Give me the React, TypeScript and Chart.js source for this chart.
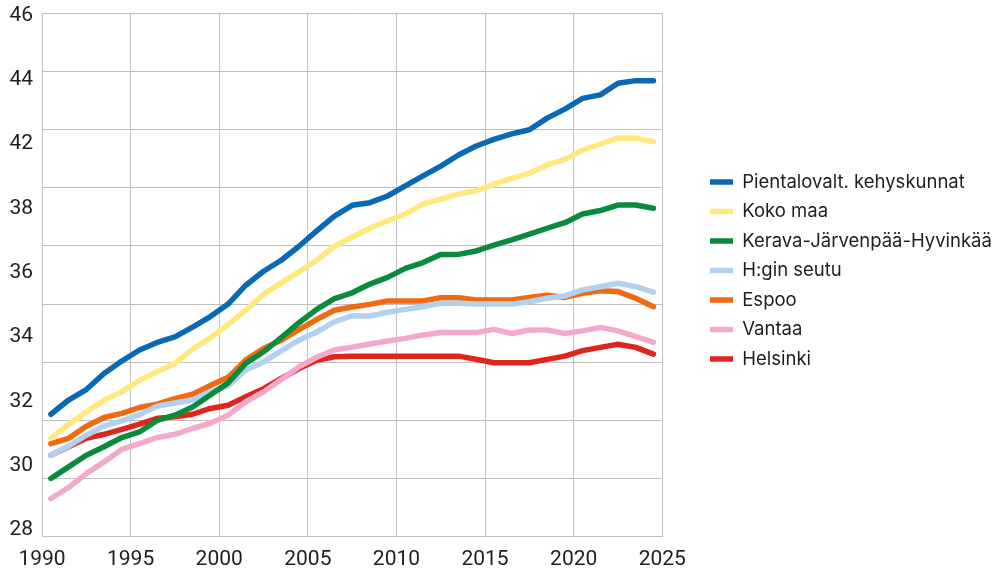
import React, { useEffect, useRef } from 'react';
import { Chart, registerables } from 'chart.js';

Chart.register(...registerables);

// Years (values are plotted at mid-year)
const years = [
  1990, 1991, 1992, 1993, 1994, 1995, 1996, 1997, 1998, 1999,
  2000, 2001, 2002, 2003, 2004, 2005, 2006, 2007, 2008, 2009,
  2010, 2011, 2012, 2013, 2014, 2015, 2016, 2017, 2018, 2019,
  2020, 2021, 2022, 2023, 2024,
];

const seriesNames = [
  'Pientalovalt. kehyskunnat',
  'Koko maa',
  'Kerava-Järvenpää-Hyvinkää',
  'H:gin seutu',
  'Espoo',
  'Vantaa',
  'Helsinki',
];

const pientalovalt = [32.21, 32.7, 33.06, 33.61, 34.04, 34.42, 34.68, 34.87, 35.21, 35.57, 36.0, 36.65, 37.13, 37.51, 37.99, 38.52, 39.03, 39.4, 39.49, 39.72, 40.07, 40.41, 40.75, 41.13, 41.44, 41.67, 41.86, 42.0, 42.4, 42.71, 43.08, 43.2, 43.6, 43.69, 43.69];
const kokoMaa = [31.38, 31.87, 32.29, 32.7, 32.98, 33.38, 33.67, 33.96, 34.45, 34.84, 35.3, 35.79, 36.34, 36.73, 37.11, 37.51, 37.99, 38.3, 38.61, 38.87, 39.1, 39.45, 39.61, 39.79, 39.9, 40.12, 40.33, 40.5, 40.79, 40.98, 41.3, 41.51, 41.71, 41.71, 41.59];
const keravaJarvenpaaHyvinkaa = [30.0, 30.4, 30.8, 31.09, 31.41, 31.6, 32.0, 32.18, 32.46, 32.87, 33.29, 33.96, 34.36, 34.85, 35.36, 35.82, 36.19, 36.39, 36.69, 36.92, 37.23, 37.43, 37.71, 37.71, 37.83, 38.03, 38.21, 38.41, 38.61, 38.8, 39.1, 39.22, 39.41, 39.41, 39.3];
const hginSeutu = [30.8, 31.11, 31.49, 31.8, 31.98, 32.2, 32.49, 32.6, 32.7, 32.99, 33.18, 33.73, 34.01, 34.39, 34.76, 35.04, 35.39, 35.6, 35.59, 35.72, 35.82, 35.91, 36.03, 36.03, 36.0, 36.0, 36.0, 36.08, 36.2, 36.28, 36.49, 36.6, 36.72, 36.6, 36.41];
const espoo = [31.2, 31.38, 31.8, 32.1, 32.24, 32.44, 32.56, 32.75, 32.9, 33.2, 33.48, 34.08, 34.47, 34.76, 35.12, 35.47, 35.79, 35.9, 35.99, 36.11, 36.11, 36.11, 36.22, 36.22, 36.14, 36.14, 36.14, 36.23, 36.31, 36.23, 36.37, 36.46, 36.43, 36.2, 35.91];
const vantaa = [29.31, 29.69, 30.17, 30.57, 31.0, 31.2, 31.41, 31.52, 31.72, 31.9, 32.18, 32.64, 32.98, 33.41, 33.84, 34.17, 34.42, 34.52, 34.63, 34.73, 34.82, 34.94, 35.02, 35.02, 35.02, 35.13, 34.99, 35.11, 35.11, 34.99, 35.08, 35.2, 35.08, 34.88, 34.68];
const helsinki = [30.8, 31.09, 31.38, 31.52, 31.69, 31.87, 32.07, 32.12, 32.21, 32.41, 32.52, 32.81, 33.09, 33.44, 33.78, 34.07, 34.19, 34.21, 34.21, 34.21, 34.21, 34.21, 34.21, 34.21, 34.1, 33.98, 33.98, 33.98, 34.1, 34.21, 34.4, 34.51, 34.62, 34.51, 34.28];

const seriesValues = [pientalovalt, kokoMaa, keravaJarvenpaaHyvinkaa, hginSeutu, espoo, vantaa, helsinki];
const seriesColors = ['#0a69b4', '#ffe97f', '#0a8a3c', '#b0d2f0', '#ef6a10', '#f4a9cc', '#e0261c'];

// Axis tick labels as printed on the chart (bottom to top)
const yTickLabels = ['28', '30', '32', '34', '36', '38', '42', '44', '46'];
const xMin = 1990;
const xMax = 2025;
const xStep = 5;
const yMin = 28;
const yMax = 46;
const yStep = 2;

const TICK_FONT = 'Roboto, "Liberation Sans", Arial, sans-serif';
const LEGEND_FONT = 'Inter, Roboto, "Liberation Sans", Arial, sans-serif';
const GRID = '#bfbfbf';
const TEXT = '#1e1e1e';
const LEGEND_LEFT = 699;

export default function App() {
  const canvasRef = useRef<HTMLCanvasElement | null>(null);

  useEffect(() => {
    if (!canvasRef.current) return;
    const datasets = seriesNames.map((name, i) => ({
      label: name,
      data: years.map((yr, j) => ({ x: yr + 0.5, y: seriesValues[i][j] })),
      borderColor: seriesColors[i],
      backgroundColor: seriesColors[i],
      borderWidth: 5.5,
      borderCapStyle: 'round' as const,
      borderJoinStyle: 'round' as const,
      pointRadius: 0,
      pointHoverRadius: 0,
      tension: 0,
      fill: false,
    }));

    const chart: any = new Chart(canvasRef.current, {
      type: 'line',
      data: { datasets },
      options: {
        animation: false,
        responsive: true,
        maintainAspectRatio: false,
        layout: { padding: { top: -33, bottom: 0, left: 0, right: 0 } },
        plugins: {
          tooltip: { enabled: false },
          legend: {
            position: 'right',
            align: 'center',
            maxWidth: 600,
            labels: {
              usePointStyle: true,
              pointStyle: 'line',
              pointStyleWidth: 23,
              padding: 11,
              color: TEXT,
              font: { family: LEGEND_FONT, size: 18.5 },
            },
          },
        },
        scales: {
          x: {
            type: 'linear',
            min: xMin,
            max: xMax,
            grid: { color: GRID, lineWidth: 1, drawTicks: false },
            border: { color: GRID },
            ticks: {
              stepSize: xStep,
              maxRotation: 0,
              autoSkip: false,
              padding: 11,
              color: TEXT,
              font: { family: TICK_FONT, size: 21 },
              callback: (v: any) => String(v),
            },
            afterFit: (s: any) => {
              s.height = 574 - 536.6;
            },
          },
          y: {
            type: 'linear',
            position: 'left',
            weight: 0,
            min: yMin,
            max: yMax,
            grid: { color: GRID, lineWidth: 1, drawTicks: false },
            border: { color: GRID },
            ticks: { display: false, stepSize: yStep },
            afterFit: (s: any) => {
              s.width = 9;
              s.paddingTop = 0;
              s.paddingBottom = 0;
            },
          },
          yLab: {
            type: 'linear',
            position: 'left',
            weight: 1,
            min: -0.1,
            max: 8.03,
            grid: { display: false, drawTicks: false },
            border: { display: false },
            afterBuildTicks: (s: any) => {
              s.ticks = yTickLabels.map((_, i) => ({ value: i }));
            },
            ticks: {
              padding: 0,
              color: TEXT,
              font: { family: TICK_FONT, size: 21 },
              callback: (v: any) => yTickLabels[v],
            },
            afterFit: (s: any) => {
              s.width = 33;
              s.paddingTop = 13.5;
              s.paddingBottom = 0;
            },
          },
          yR: {
            type: 'linear',
            position: 'right',
            min: 0,
            max: 1,
            grid: { display: false, drawTicks: false },
            border: { display: false },
            ticks: { display: false },
            afterFit: (s: any) => {
              s.width = 36.7;
              s.paddingTop = 0;
              s.paddingBottom = 0;
            },
          },
        },
      },
    });

    // place the legend block at its fixed left edge
    const lg = chart.legend;
    if (lg && Math.abs(lg.left - LEGEND_LEFT) > 0.25) {
      chart.options.layout.padding.right = lg.left - LEGEND_LEFT;
      chart.update();
    }

    return () => chart.destroy();
  }, []);

  return (
    <div style={{ position: 'absolute', left: 0, top: 0, width: 1008, height: 574, background: '#fff' }}>
      <canvas ref={canvasRef} />
    </div>
  );
}
